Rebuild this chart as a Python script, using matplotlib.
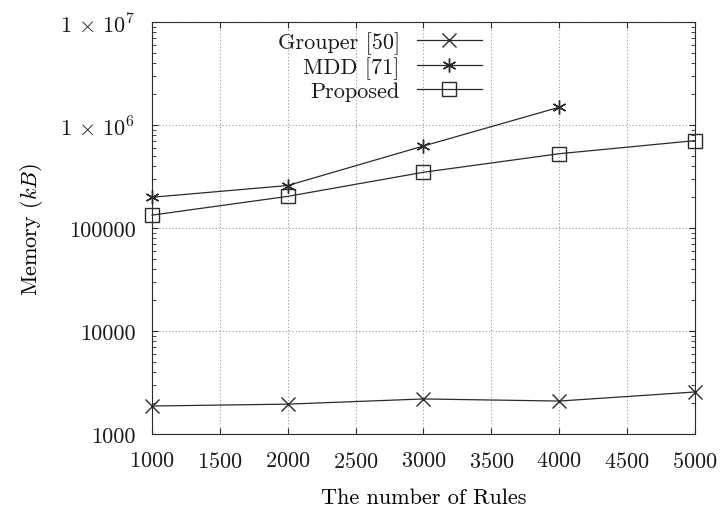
import numpy as np
from matplotlib import pyplot as plt
from matplotlib.ticker import FixedLocator, FixedFormatter, LogLocator, NullFormatter

plt.rcParams['font.family'] = 'cmr10'
plt.rcParams['mathtext.fontset'] = 'cm'
plt.rcParams['axes.formatter.use_mathtext'] = True
plt.rcParams['text.color'] = '#1a1a1a'

rules = [1000, 2000, 3000, 4000, 5000]
grouper = [1870, 1950, 2190, 2090, 2560]
mdd_rules = [1000, 2000, 3000, 4000]
mdd = [200000, 260000, 630000, 1500000]
proposed = [134000, 204000, 350000, 530000, 710000]

ytick_vals = [1e3, 1e4, 1e5, 1e6, 1e7]
ytick_labels = ["1000", "10000", "100000", r"$1\,\times\,10^6$", r"$1\,\times\,10^7$"]

fig = plt.figure(figsize=(7.21, 5.10), dpi=100)
ax = fig.add_axes([0.2108, 0.1471, 0.7531, 0.8069])

col = "#2a2a2a"
ax.plot(rules, grouper, color=col, lw=0.9, marker="x", ms=9.5, mew=1.0, clip_on=False, label="Grouper [50]")
ax.plot(mdd_rules, mdd, color=col, lw=0.9, marker=(6, 2, 0), ms=10, mew=1.0, clip_on=False, label="MDD [71]")
ax.plot(rules, proposed, color=col, lw=0.9, marker="s", ms=9.5, mew=1.0, mfc="none", clip_on=False, label="Proposed")

ax.set_yscale("log")
ax.set_xlim(1000, 5000)
ax.set_ylim(1e3, 1e7)
ax.set_xticks(np.arange(1000, 5001, 500))
ax.yaxis.set_major_locator(FixedLocator(ytick_vals))
ax.yaxis.set_major_formatter(FixedFormatter(ytick_labels))
ax.yaxis.set_minor_locator(LogLocator(base=10, subs=np.arange(2, 10)))
ax.yaxis.set_minor_formatter(NullFormatter())

ax.tick_params(which="both", direction="in", top=True, right=True, labelsize=16,
               color=col, labelcolor="#1a1a1a", pad=12)
ax.tick_params(which="major", length=4.5)
ax.tick_params(which="minor", length=3)
ax.grid(True, which="major", ls=(0, (1, 2)), color="#999999", lw=0.8)

ax.set_xlabel("The number of Rules", fontsize=16, labelpad=12)
ax.set_ylabel(r"Memory $(kB)$", fontsize=16, labelpad=11)

ax.legend(loc="upper right", bbox_to_anchor=(0.6077, 0.979), frameon=False, markerfirst=False,
          fontsize=16, handlelength=2.93, handletextpad=0.77, labelspacing=0.1,
          borderpad=0, borderaxespad=0)

for s in ax.spines.values():
    s.set_color(col)

plt.savefig("out.png", dpi=100)
